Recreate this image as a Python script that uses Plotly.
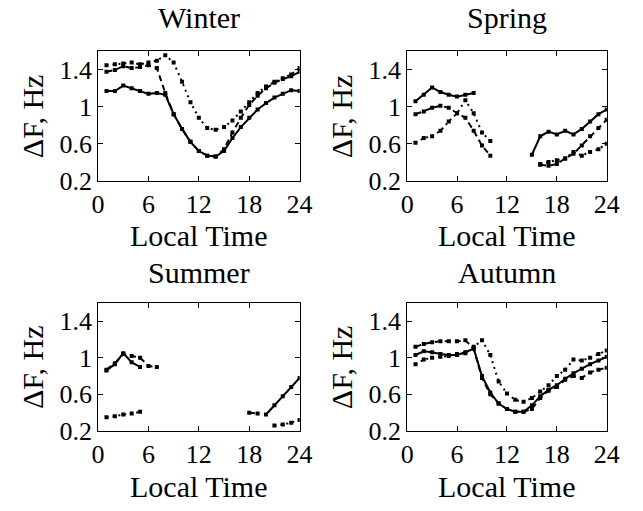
import plotly.graph_objects as go

hours = list(range(1, 25))
seasons = ["Winter", "Spring", "Summer", "Autumn"]
x_ticks = [0, 6, 12, 18, 24]
y_ticks = [0.2, 0.6, 1, 1.4]
y_tick_labels = ["0.2", "0.6", "1", "1.4"]

N = None
winter_solid = [1.17, 1.17, 1.23, 1.20, 1.17, 1.14, 1.15, 1.13, 0.92, 0.76, 0.62, 0.52,
                0.47, 0.46, 0.52, 0.66, 0.78, 0.88, 0.97, 1.04, 1.10, 1.14, 1.18, 1.17]
winter_dash = [1.38, 1.40, 1.44, 1.42, 1.43, 1.45, 1.42, 1.15, 0.92, 0.76, 0.62, 0.52,
               0.47, 0.46, 0.54, 0.72, 0.88, 1.02, 1.12, 1.20, 1.26, 1.30, 1.33, 1.38]
winter_dot = [1.45, 1.46, 1.47, 1.48, 1.46, 1.48, 1.50, 1.56, 1.48, 1.27, 1.05, 0.88,
              0.77, 0.75, 0.78, 0.85, 0.95, 1.05, 1.15, 1.22, 1.27, 1.31, 1.35, 1.42]

spring_solid = [1.06, 1.13, 1.21, 1.16, 1.13, 1.11, 1.13, 1.15, N, N, N, N,
                N, N, 0.48, 0.68, 0.73, 0.70, 0.74, 0.70, 0.76, 0.84, 0.92, 0.97]
spring_dash = [0.92, 0.95, 0.99, 1.01, 0.99, 0.93, 0.88, 0.74, 0.58, 0.47, N, N,
               N, N, N, 0.37, 0.36, 0.38, 0.44, 0.49, 0.58, 0.68, 0.77, 0.86]
spring_dot = [0.61, 0.66, 0.68, 0.74, 0.84, 0.93, 1.07, 0.93, 0.72, 0.63, N, N,
              N, N, N, 0.38, 0.40, 0.42, 0.44, 0.51, 0.47, 0.51, 0.54, 0.60]

summer_solid = [0.86, 0.93, 1.05, 0.95, 0.90, N, N, N, N, N, N, N,
                N, N, N, N, N, N, N, 0.38, 0.48, 0.58, 0.68, 0.78]
summer_dash = [0.87, 0.94, 1.04, 1.02, 1.00, 0.91, 0.90, N, N, N, N, N,
               N, N, N, N, N, 0.40, 0.39, N, N, N, N, N]
summer_dot = [0.35, 0.36, 0.38, 0.39, 0.41, N, N, N, N, N, N, N,
              N, N, N, N, N, N, N, N, 0.26, 0.27, 0.29, 0.32]

autumn_solid = [1.03, 1.07, 1.06, 1.04, 1.03, 1.03, 1.06, 1.10, 0.80, 0.62, 0.50, 0.44,
                0.41, 0.41, 0.48, 0.58, 0.65, 0.70, 0.77, 0.83, 0.88, 0.93, 0.97, 1.01]
autumn_dash = [1.12, 1.15, 1.17, 1.18, 1.18, 1.18, 1.19, 1.10, 0.78, 0.60, 0.50, 0.44,
               0.41, 0.41, 0.44, 0.56, 0.64, 0.68, 0.76, 0.80, 0.78, 0.84, 0.87, 0.89]
autumn_dot = [0.93, 0.98, 1.00, 1.01, 1.02, 1.04, 1.05, 1.12, 1.19, 1.03, 0.74, 0.61,
              0.54, 0.52, 0.56, 0.63, 0.70, 0.80, 0.87, 0.98, 0.97, 1.00, 1.04, 1.08]

data = {
    "Winter": [winter_solid, winter_dash, winter_dot],
    "Spring": [spring_solid, spring_dash, spring_dot],
    "Summer": [summer_solid, summer_dash, summer_dot],
    "Autumn": [autumn_solid, autumn_dash, autumn_dot],
}
dashes = ["solid", "6px,4px", "2px,4px"]

W, H = 643, 511
FONT = "Liberation Serif"

# panel pixel boxes (left, right, top, bottom) and title centre y
boxes = {
    "Winter": (94, 302, 53, 186, 18),
    "Spring": (413, 619, 53, 186, 18),
    "Summer": (94, 302, 312, 444, 281),
    "Autumn": (413, 619, 312, 444, 281),
}

fig = go.Figure()
annotations = []
for i, s in enumerate(seasons):
    n = i + 1
    xa = "x" if n == 1 else f"x{n}"
    ya = "y" if n == 1 else f"y{n}"
    for series, d in zip(data[s], dashes):
        fig.add_trace(go.Scatter(
            x=hours, y=series, xaxis=xa, yaxis=ya, mode="lines+markers",
            line=dict(color="black", width=2, dash=d),
            marker=dict(symbol="square", size=4, color="black"),
            connectgaps=False, showlegend=False, hoverinfo="skip"))
    l, r, t, b, ty = boxes[s]
    axis_common = dict(showline=True, linecolor="black", linewidth=1, mirror="ticks",
                       ticks="inside", ticklen=5, tickcolor="black", showgrid=False,
                       zeroline=False, tickfont=dict(family=FONT, size=26, color="black"))
    fig.layout[f"xaxis{'' if n == 1 else n}"] = dict(
        domain=[l / W, r / W], anchor=ya, range=[0, 24], tickvals=x_ticks,
        ticktext=[str(v) for v in x_ticks], **axis_common)
    fig.layout[f"yaxis{'' if n == 1 else n}"] = dict(
        domain=[1 - b / H, 1 - t / H], anchor=xa, range=[0.2, 1.6], tickvals=y_ticks,
        ticktext=y_tick_labels, **axis_common)
    cx = (l + r) / 2
    annotations.append(dict(text=s, x=cx / W, y=1 - ty / H, xref="paper", yref="paper",
                            showarrow=False, font=dict(family=FONT, size=30, color="black"),
                            xanchor="center", yanchor="middle"))
    annotations.append(dict(text="Local Time", x=cx / W, y=1 - (b + 57) / H, xref="paper",
                            yref="paper", showarrow=False,
                            font=dict(family=FONT, size=30, color="black"),
                            xanchor="center", yanchor="middle"))
    annotations.append(dict(text="ΔF, Hz", x=(l - 67) / W, y=1 - ((t + b) / 2) / H,
                            xref="paper", yref="paper", showarrow=False, textangle=-90,
                            font=dict(family=FONT, size=30, color="black"),
                            xanchor="center", yanchor="middle"))

fig.update_layout(width=W, height=H, margin=dict(l=0, r=0, t=0, b=0),
                  paper_bgcolor="white", plot_bgcolor="white", annotations=annotations)
fig.write_html("out.html")
